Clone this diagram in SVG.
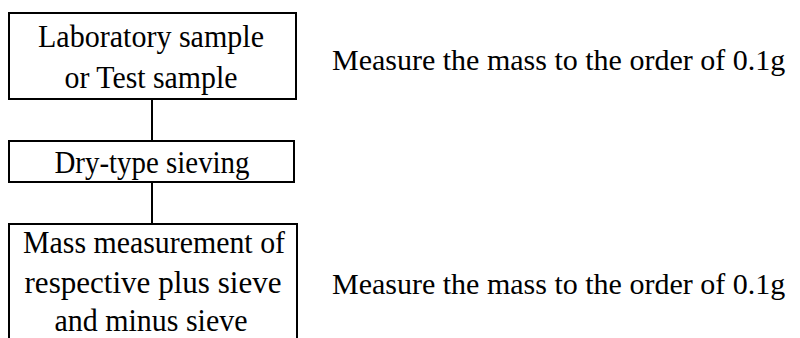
<svg xmlns="http://www.w3.org/2000/svg" width="800" height="338" viewBox="0 0 800 338">
<style>
.box{fill:#fff;stroke:#000;stroke-width:2}
.t{font-family:"Liberation Serif","Times New Roman",serif;font-size:32px;fill:#000}
.n{font-family:"Liberation Serif","Times New Roman",serif;font-size:30px;fill:#000}
.c{text-anchor:middle}
.ln{stroke:#000;stroke-width:2;fill:none}
</style>
<rect width="800" height="338" fill="#fff"/>
<g id="connectors">
<line class="ln" x1="152" y1="99" x2="152" y2="141"/>
<line class="ln" x1="152" y1="182" x2="152" y2="224"/>
</g>
<g id="node1">
<rect class="box" x="9" y="13" width="287" height="86"/>
<text class="t c" x="151" y="47" textLength="226" lengthAdjust="spacingAndGlyphs">Laboratory sample</text>
<text class="t c" x="151" y="88" textLength="173" lengthAdjust="spacingAndGlyphs">or Test sample</text>
</g>
<g id="node2">
<rect class="box" x="9" y="141" width="285" height="41"/>
<text class="t c" x="152" y="173" textLength="195" lengthAdjust="spacingAndGlyphs">Dry-type sieving</text>
</g>
<g id="node3">
<rect class="box" x="9" y="224" width="288" height="130"/>
<text class="t c" x="154" y="253" textLength="262" lengthAdjust="spacingAndGlyphs">Mass measurement of</text>
<text class="t c" x="153" y="293" textLength="257" lengthAdjust="spacingAndGlyphs">respective plus sieve</text>
<text class="t c" x="151" y="331" textLength="193" lengthAdjust="spacingAndGlyphs">and minus sieve</text>
</g>
<g id="note1">
<text class="n" x="332" y="70">Measure the mass to the order of 0.1g</text>
</g>
<g id="note2">
<text class="n" x="332" y="294">Measure the mass to the order of 0.1g</text>
</g>
</svg>
